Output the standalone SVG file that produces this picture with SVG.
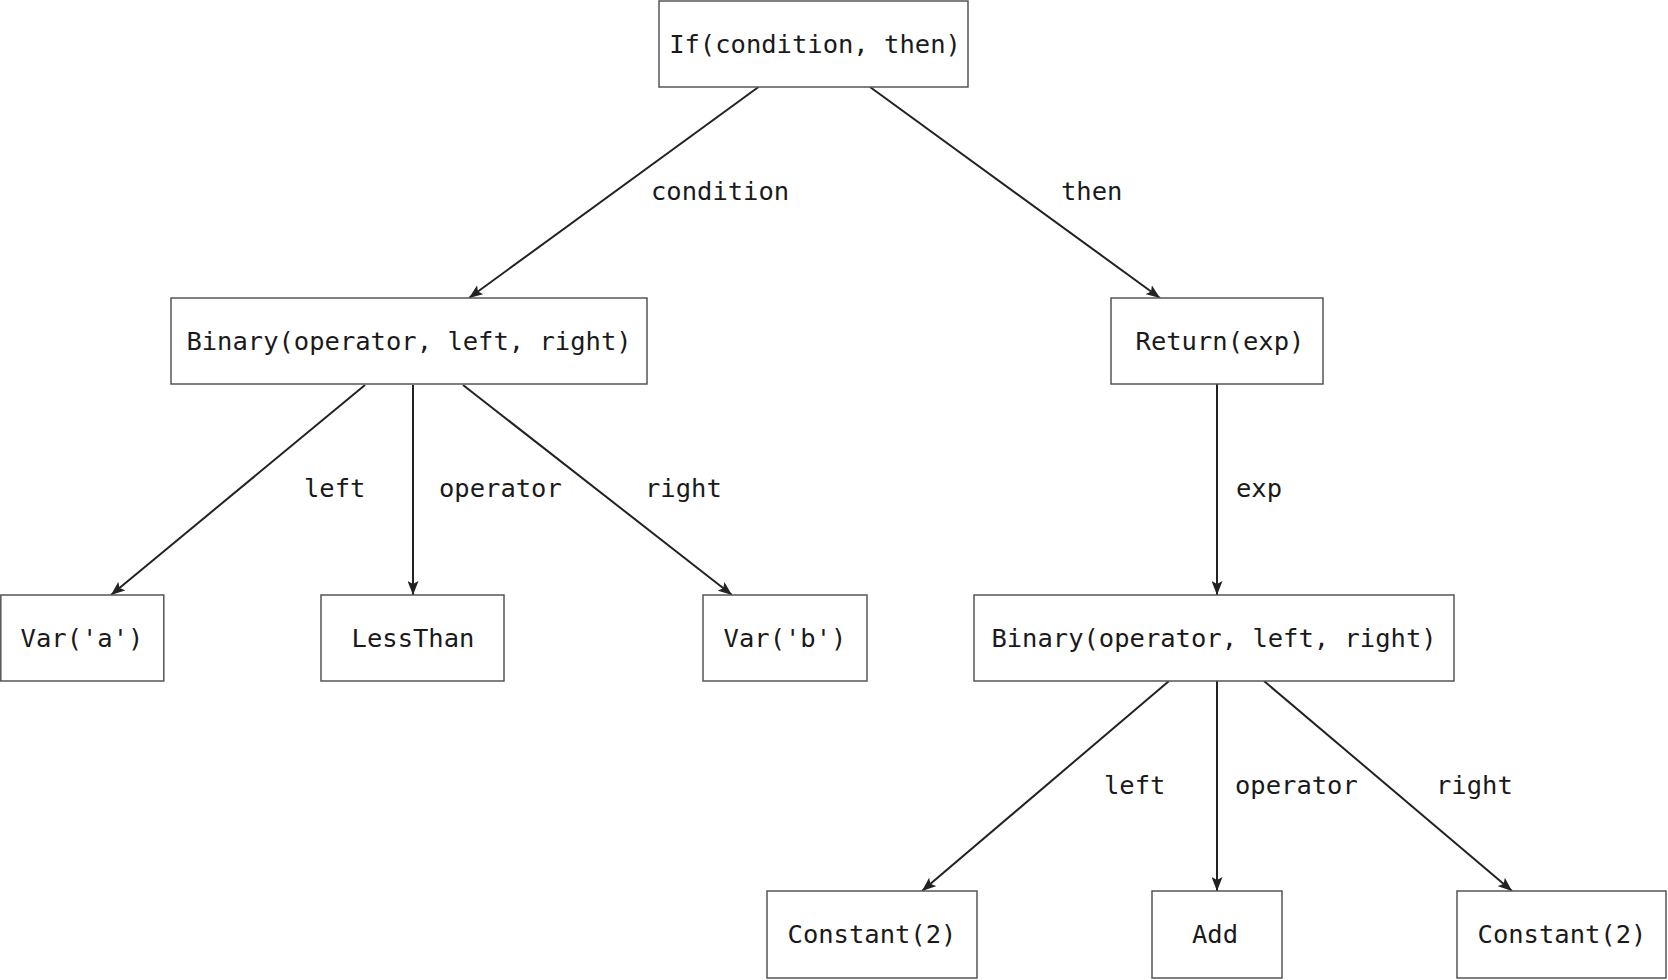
<svg xmlns="http://www.w3.org/2000/svg" width="1668" height="980" viewBox="0 0 1668 980">
<style>
.box{fill:#fff;stroke:#555;stroke-width:1.5}
.t{font-family:"DejaVu Sans Mono","Liberation Mono",monospace;font-size:25.5px;fill:#1a1a1a;text-anchor:middle}
.l{font-family:"DejaVu Sans Mono","Liberation Mono",monospace;font-size:25.5px;fill:#1a1a1a}
.e{stroke:#222;stroke-width:2;fill:none;marker-end:url(#a)}
</style>
<defs>
<marker id="a" viewBox="0 0 14 11" refX="14" refY="5.5" markerWidth="14" markerHeight="11" markerUnits="userSpaceOnUse" orient="auto">
<path d="M0,0 L14,5.5 L0,11 L3,5.5 z" fill="#222"/>
</marker>
</defs>
<rect width="1668" height="980" fill="#fff"/>
<g id="connectors">
<line class="e" x1="758.5" y1="87" x2="469" y2="298"/>
<line class="e" x1="870" y1="87" x2="1160" y2="298"/>
<line class="e" x1="365" y1="385" x2="111" y2="595"/>
<line class="e" x1="413" y1="385" x2="413" y2="595"/>
<line class="e" x1="463" y1="385" x2="732" y2="595"/>
<line class="e" x1="1217" y1="384" x2="1217" y2="595"/>
<line class="e" x1="1169" y1="681" x2="922" y2="891"/>
<line class="e" x1="1217" y1="681" x2="1217" y2="891"/>
<line class="e" x1="1264" y1="681" x2="1512" y2="891"/>
<text class="l" x="651" y="200">condition</text>
<text class="l" x="1061" y="200">then</text>
<text class="l" x="304" y="497">left</text>
<text class="l" x="439" y="497">operator</text>
<text class="l" x="645" y="497">right</text>
<text class="l" x="1236" y="497">exp</text>
<text class="l" x="1104" y="794">left</text>
<text class="l" x="1235" y="794">operator</text>
<text class="l" x="1436" y="794">right</text>
</g>
<g id="n-if"><rect class="box" x="659" y="1" width="309" height="86"/><text class="t" x="815" y="53">If(condition, then)</text></g>
<g id="n-binary1"><rect class="box" x="171" y="298" width="476" height="86"/><text class="t" x="409" y="350">Binary(operator, left, right)</text></g>
<g id="n-return"><rect class="box" x="1111" y="298" width="212" height="86"/><text class="t" x="1220" y="350">Return(exp)</text></g>
<g id="n-vara"><rect class="box" x="0.8" y="595" width="163" height="86"/><text class="t" x="82" y="647">Var('a')</text></g>
<g id="n-lessthan"><rect class="box" x="321" y="595" width="183" height="86"/><text class="t" x="413" y="647">LessThan</text></g>
<g id="n-varb"><rect class="box" x="703" y="595" width="164" height="86"/><text class="t" x="785" y="647">Var('b')</text></g>
<g id="n-binary2"><rect class="box" x="974" y="595" width="480" height="86"/><text class="t" x="1214" y="647">Binary(operator, left, right)</text></g>
<g id="n-const1"><rect class="box" x="767" y="891" width="210" height="87"/><text class="t" x="872" y="943">Constant(2)</text></g>
<g id="n-add"><rect class="box" x="1152" y="891" width="130" height="87"/><text class="t" x="1215" y="943">Add</text></g>
<g id="n-const2"><rect class="box" x="1457" y="891" width="209" height="87"/><text class="t" x="1562" y="943">Constant(2)</text></g>
</svg>
